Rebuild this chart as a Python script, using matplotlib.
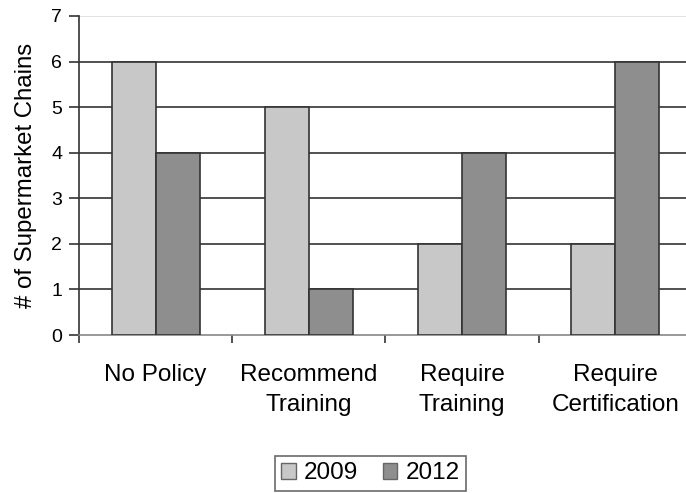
import matplotlib
matplotlib.use("Agg")
import matplotlib.pyplot as plt
import numpy as np

plt.rcParams['font.family'] = ['Liberation Sans', 'DejaVu Sans']

categories = ["No Policy", "Recommend\nTraining", "Require\nTraining", "Require\nCertification"]
series_names = ["2009", "2012"]
values_2009 = [6, 5, 2, 2]
values_2012 = [4, 1, 4, 6]
y_ticks = [0, 1, 2, 3, 4, 5, 6, 7]

fig = plt.figure(figsize=(6.86, 4.93), dpi=100)
ax = fig.add_axes([79/686, (493-335)/493, 613/686, (335-16)/493])

x = np.arange(len(categories))
w = 0.287
ax.bar(x - w/2, values_2009, w, color="#c8c8c8", edgecolor="#333333", linewidth=1.2, label=series_names[0], zorder=3)
ax.bar(x + w/2, values_2012, w, color="#8e8e8e", edgecolor="#333333", linewidth=1.2, label=series_names[1], zorder=3)

ax.set_xlim(-0.5, 3.5)
ax.set_ylim(0, 7)
ax.set_yticks(y_ticks)
for yv in y_ticks[1:-1]:
    ax.axhline(yv, color="#333333", linewidth=1.2, zorder=1)
ax.axhline(7, color="#dddddd", linewidth=1.2, zorder=1)

for s in ["top", "right"]:
    ax.spines[s].set_visible(False)
ax.spines["left"].set_color("#333333")
ax.spines["left"].set_linewidth(1.2)
ax.spines["bottom"].set_color("#888888")
ax.spines["bottom"].set_linewidth(1.2)

ax.tick_params(axis="y", length=7, width=1.2, color="#333333", labelsize=14, pad=5)
ax.set_xticks(x)
ax.set_xticklabels(categories, fontsize=17.5, linespacing=1.45)
ax.tick_params(axis="x", length=0, pad=21)
ax.set_xticks(np.arange(-0.5, 3.6, 1.0), minor=True)
ax.tick_params(axis="x", which="minor", length=6, width=1.2, color="#333333")

ax.set_ylabel("# of Supermarket Chains", fontsize=17.3, labelpad=10)

leg = fig.legend(loc="lower center", bbox_to_anchor=(0.54, 0.005), ncol=2, fontsize=17.5,
                 frameon=True, fancybox=False, handlelength=0.6, handleheight=0.6,
                 handletextpad=0.35, columnspacing=1.0, borderpad=0.25, borderaxespad=0)
leg.get_frame().set_edgecolor("#444444")
leg.get_frame().set_linewidth(1.2)
for h in leg.legend_handles:
    h.set_edgecolor("#666666")
    h.set_linewidth(1.0)

fig.savefig("out.png", dpi=100)
